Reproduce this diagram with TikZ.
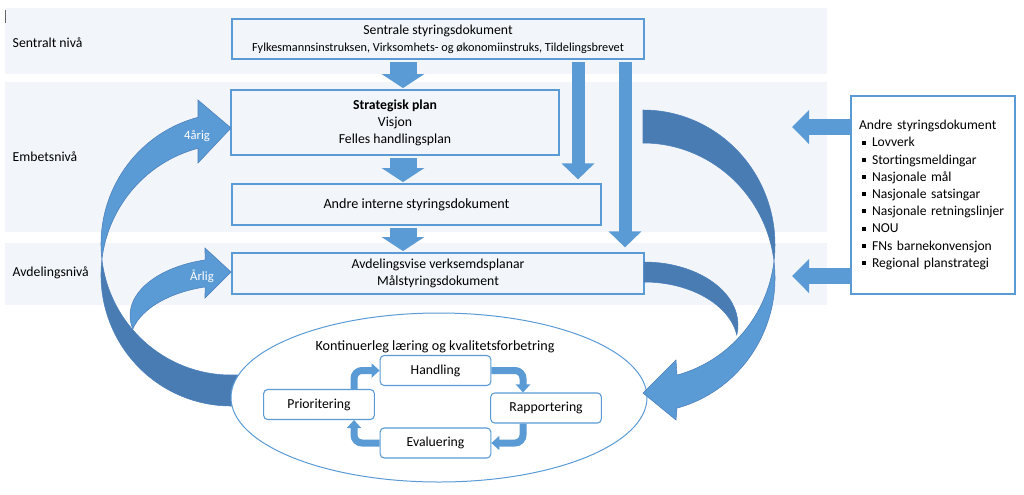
\documentclass[tikz,border=0pt]{standalone}
\usepackage{fontspec}
\setmainfont{Carlito}
\usepackage{tikz}
\usetikzlibrary{arrows.meta, positioning, shapes.geometric}
\definecolor{bandgrey}{HTML}{F2F5F9}
\definecolor{myblue}{HTML}{5B9BD5}
\definecolor{mydarkblue}{HTML}{4A7CB4}
\definecolor{edgeblue}{HTML}{4A7EBB}
\newcommand{\listbullet}{\hspace*{2.25pt}\rule[1.8pt]{3pt}{3pt}\hspace*{4.5pt}}
\tikzset{
  docbox/.style={draw=myblue, line width=0.9pt, align=center, inner sep=0pt},
  stepbox/.style={draw=myblue, line width=0.8pt, rounded corners=3pt, fill=white, inner sep=0pt, minimum width=83pt, minimum height=22.5pt},
  blockdown/.style={myblue, line width=20.25pt, -{Triangle[width=31.5pt,length=10.5pt]}, shorten <=2pt, shorten >=1pt},
  longdown/.style={myblue, line width=9.75pt, -{Triangle[width=24pt,length=12pt]}, shorten <=2pt},
  sidearrow/.style={myblue, line width=12pt, -{Triangle[width=24.75pt,length=12.75pt]}},
  looparrow/.style={myblue, line width=5.25pt, rounded corners=6pt, -{Triangle[width=10.5pt,length=6pt]}},
  curvelight/.style={fill=myblue, draw=edgeblue, line width=0.4pt},
  curvedark/.style={fill=mydarkblue, draw=edgeblue, line width=0.4pt},
  arrowlabel/.style={text=white, font=\fontsize{9.5}{11}\selectfont}
}

\begin{document}
\begin{tikzpicture}[x=0.75pt, y=-0.75pt, font=\fontsize{10.3}{12.8}\selectfont]
	\useasboundingbox (0,0) rectangle (1024,494);
	\fill[bandgrey] (5,8) rectangle (827,74);
	\fill[bandgrey] (5,82) rectangle (827,232);
	\fill[bandgrey] (5,243) rectangle (827,305);
	\draw[black!60, line width=0.75pt] (5,10) -- (5,23);
	\node[anchor=west] (sentralt) at (8,43) {Sentralt nivå};
	\node[anchor=west] (embets) at (8,157) {Embetsnivå};
	\node[anchor=west] (avdniva) at (8,273) {Avdelingsnivå};

	\node[docbox, minimum width=309pt, minimum height=30pt] (sentral) at (438,39) {Sentrale styringsdokument\\{\fontsize{9.2}{10}\selectfont Fylkesmannsinstruksen, Virksomhets- og økonomiinstruks, Tildelingsbrevet}};
	\node[docbox, minimum width=246pt, minimum height=48.75pt] (strategi) at (395,122.5) {\textbf{Strategisk plan}\\Visjon\\Felles handlingsplan};
	\node[docbox, minimum width=276.75pt, minimum height=30.75pt, font=\fontsize{10.6}{12.8}\selectfont] (interne) at (416.5,204.5) {Andre interne styringsdokument};
	\node[docbox, minimum width=309pt, minimum height=30.75pt] (avdeling) at (438,273.5) {Avdelingsvise verksemdsplanar\\Målstyringsdokument};

	\draw[blockdown] (403,0 |- sentral.south) -- (403,0 |- strategi.north);
	\draw[blockdown] (403,0 |- strategi.south) -- (403,0 |- interne.north);
	\draw[blockdown] (403,0 |- interne.south) -- (403,0 |- avdeling.north);
	\draw[longdown, shorten >=3pt] (578,0 |- sentral.south) -- (578,0 |- interne.north);
	\draw[longdown, shorten >=3.75pt] (625,0 |- sentral.south) -- (625,0 |- avdeling.north);

	\draw[curvedark] (101.9,259.5) arc[start angle=186.8, end angle=90, x radius=130, y radius=131] -- (240,406) -- (240,375) -- (231,375) arc[start angle=90, end angle=173.2, x radius=130, y radius=131] -- cycle;
	\draw[curvelight] (231,244) ++(255.3:130 and 131) arc[start angle=255.3, end angle=173.2, x radius=130, y radius=131] arc[start angle=186.8, end angle=255.3, x radius=130, y radius=131] -- (198,163) -- (231,128) -- (198,100) -- cycle;
	\draw[curvelight] (231,315.5) ++(255.1:101 and 57.5) arc[start angle=255.1, end angle=166.4, x radius=101, y radius=57.5] arc[start angle=193.6, end angle=255.1, x radius=101, y radius=57.5] -- (205,298) -- (231,272) -- (205,248) -- cycle;
	\draw[curvedark] (643,110) arc[start angle=-90, end angle=7.03, x radius=132, y radius=134.8] arc[start angle=-7.03, end angle=-90, x radius=132, y radius=134.8] -- cycle;
	\draw[curvedark] (644,262) arc[start angle=-90, end angle=9.13, x radius=94, y radius=63] arc[start angle=-9.13, end angle=-90, x radius=94, y radius=63] -- cycle;

	\node[ellipse, draw=myblue, line width=0.75pt, fill=white, inner sep=0pt, minimum width=312pt, minimum height=126.75pt] (kvalitet) at (439,397.5) {};
	\draw[curvelight] (774,261.3) arc[start angle=7.03, end angle=75.07, x radius=132, y radius=134.8] -- (676,360) -- (643,393) -- (676,420) -- (677,408.1) arc[start angle=75.07, end angle=-7.03, x radius=132, y radius=134.8] -- cycle;
	\node[arrowlabel] (fireaarig) at (197,136) {4årig};
	\node[arrowlabel] (aarlig) at (202,276) {Årlig};

	\node[font=\fontsize{10.6}{12.8}\selectfont] (kvaltittel) at (435,347) {Kontinuerleg læring og kvalitetsforbetring};
	\node[stepbox] (handling) at (435.5,370.5) {Handling};
	\node[stepbox] (prior) at (319,404.5) {Prioritering};
	\node[stepbox] (rapport) at (546,408) {Rapportering};
	\node[stepbox] (evaluering) at (435.5,443) {Evaluering};
	\draw[looparrow] (354,0 |- prior.north) |- (handling.west);
	\draw[looparrow] (handling.east) -| (523,0 |- rapport.north);
	\draw[looparrow] (523,0 |- rapport.south) |- (evaluering.east);
	\draw[looparrow] (evaluering.west) -| (354,0 |- prior.south);

	\node[docbox, fill=white, minimum width=123pt, minimum height=148.5pt, text width=111pt, align=left, font=\fontsize{10.2}{12.9}\selectfont] (andre) at (933,195) {Andre styringsdokument\\\listbullet Lovverk\\\listbullet Stortingsmeldingar\\\listbullet Nasjonale mål\\\listbullet Nasjonale satsingar\\\listbullet Nasjonale retningslinjer\\\listbullet NOU\\\listbullet FNs barnekonvensjon\\\listbullet Regional planstrategi};
	\coordinate (inn1) at (792,127);
	\coordinate (inn2) at (792,276);
	\draw[sidearrow] (andre.west |- inn1) -- (inn1);
	\draw[sidearrow] (andre.west |- inn2) -- (inn2);
\end{tikzpicture}
\end{document}
